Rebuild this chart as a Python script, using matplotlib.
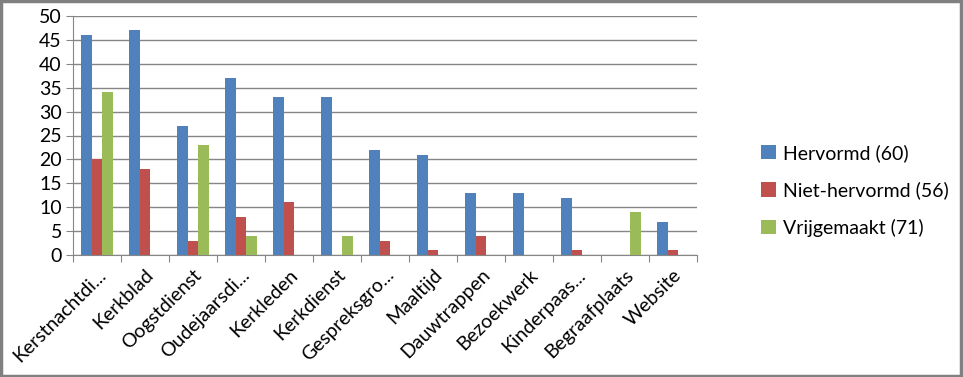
import matplotlib
matplotlib.use("Agg")
import matplotlib.pyplot as plt
import numpy as np
from matplotlib.patches import Rectangle

categories = ["Kerstnachtdi...", "Kerkblad", "Oogstdienst", "Oudejaarsdi...",
              "Kerkleden", "Kerkdienst", "Gespreksgro...", "Maaltijd",
              "Dauwtrappen", "Bezoekwerk", "Kinderpaas...", "Begraafplaats",
              "Website"]
hervormd = [46, 47, 27, 37, 33, 33, 22, 21, 13, 13, 12, 0, 7]
niet_hervormd = [20, 18, 3, 8, 11, 0, 3, 1, 4, 0, 1, 0, 1]
vrijgemaakt = [34, 0, 23, 4, 0, 4, 0, 0, 0, 0, 0, 9, 0]
series_labels = ["Hervormd (60)", "Niet-hervormd (56)", "Vrijgemaakt (71)"]
colors = ["#4F81BD", "#C0504D", "#9BBB59"]

plt.rcParams['font.family'] = ['Lato', 'DejaVu Sans']

fig = plt.figure(figsize=(9.63, 3.77), dpi=100)
ax = fig.add_axes([73 / 963, 1 - 255 / 377, 624 / 963, 239 / 377])

x = np.arange(len(categories))
w = 1 / 4.5
for i, vals in enumerate([hervormd, niet_hervormd, vrijgemaakt]):
    ax.bar(x + (i - 1) * w, vals, width=w, color=colors[i],
           label=series_labels[i], zorder=3)

ax.set_xlim(-0.5, len(categories) - 0.5)
ax.set_ylim(0, 50)
ax.set_yticks(range(0, 51, 5))
ax.tick_params(axis='y', labelsize=14, length=5, color='#868686', pad=3)
ax.yaxis.grid(True, color='#868686', linewidth=1, zorder=0)

ax.set_xticks(np.arange(-0.5, len(categories), 1))
ax.set_xticklabels([])
ax.set_xticks(x, minor=True)
ax.set_xticklabels(categories, minor=True, rotation=45, ha='right',
                   rotation_mode='anchor', fontsize=14)
ax.tick_params(axis='x', which='major', length=5, color='#868686')
ax.tick_params(axis='x', which='minor', length=0, pad=8)

for s in ['top', 'right']:
    ax.spines[s].set_visible(False)
for s in ['left', 'bottom']:
    ax.spines[s].set_color('#868686')

ax.legend(loc='center left', bbox_to_anchor=(1.075, 0.27), frameon=False,
          fontsize=14, handlelength=0.75, handleheight=0.75,
          labelspacing=1.0, handletextpad=0.35)

fig.patches.append(Rectangle((0.001, 0.002), 0.997, 0.995, transform=fig.transFigure,
                             fill=False, edgecolor='#808080', linewidth=2.5))

fig.savefig("out.png", dpi=100)
